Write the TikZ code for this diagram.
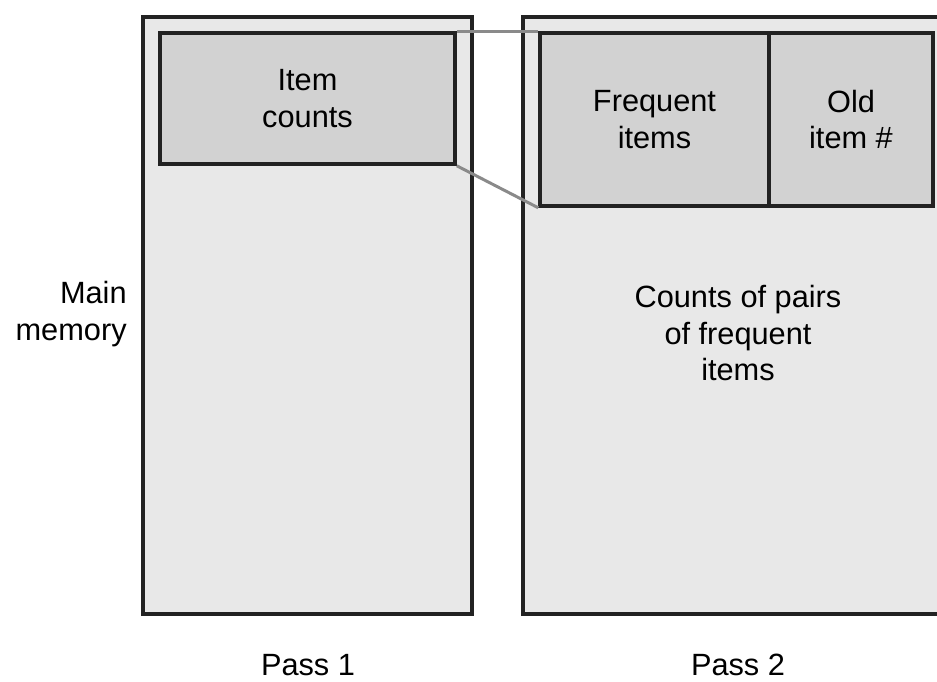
\documentclass[tikz,border=0pt]{standalone}
\usepackage{fontspec}
\setmainfont{Liberation Sans}
\usetikzlibrary{positioning}
\definecolor{outerfill}{HTML}{E8E8E8}
\definecolor{innerfill}{HTML}{D2D2D2}
\definecolor{edgecol}{HTML}{222222}
\definecolor{linkcol}{HTML}{8A8A8A}
\begin{document}
\begin{tikzpicture}[x=0.02cm, y=-0.02cm,
memnode/.style={rectangle, draw=edgecol, fill=outerfill, line width=2.3pt, inner sep=0pt,
  minimum width=#1*0.02cm, minimum height=597*0.02cm},
blocknode/.style={rectangle, draw=edgecol, fill=innerfill, line width=2pt, inner sep=0pt,
  minimum height=#1*0.02cm},
labelnode/.style={align=center, font=\fontsize{17.5pt}{21pt}\selectfont, inner sep=0pt},
linkline/.style={draw=linkcol, line width=1.7pt},
]
\useasboundingbox (0,0) rectangle (937,681);
\clip (0,0) rectangle (937,681);
%Nodes
\node[memnode=329]      (pass1)   at (307.5,315.5) {};
\node[memnode=432]      (pass2)   at (739,315.5)   {};
\node[blocknode=131, minimum width=295*0.02cm] (cnt)  at (307.5,98.5) {};
\node[blocknode=173, minimum width=229*0.02cm] (freq) at (654.5,119.5) {};
\node[blocknode=173, minimum width=164*0.02cm] (old)  at (851,119.5)   {};
\node[labelnode]        at (cnt.center)    {Item\\counts};
\node[labelnode]        at (freq.center)   {Frequent\\items};
\node[labelnode]        at (old.center)    {Old\\item \#};
\node[labelnode]        (pairs)   at (738,333) {Counts of pairs\\of frequent\\items};
\node[labelnode, align=right, anchor=east] (mem) at (127,314) {Main\\memory};
\node[labelnode]        (p1)      at (308,665) {Pass 1};
\node[labelnode]        (p2)      at (738,665) {Pass 2};

%Lines
\draw[linkline] (cnt.north east) -- (freq.north west);
\draw[linkline] (cnt.south east) -- (freq.south west);
\end{tikzpicture}
\end{document}
